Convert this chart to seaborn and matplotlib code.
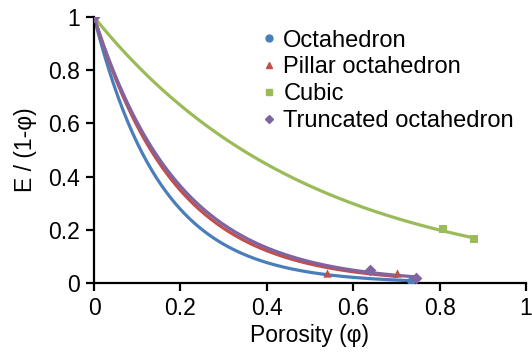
import numpy as np
import pandas as pd
import matplotlib
matplotlib.use("Agg")
import matplotlib.pyplot as plt
import seaborn as sns
from matplotlib.lines import Line2D

sns.set_style("white")
plt.rcParams['font.family'] = ['Liberation Sans', 'DejaVu Sans']

series_names = ["Octahedron", "Pillar octahedron", "Cubic", "Truncated octahedron"]
oct_x = [0.0, 0.734]
oct_y = [1.0, 0.009]
pil_x = [0.0, 0.539, 0.701]
pil_y = [1.0, 0.036, 0.036]
cub_x = [0.0, 0.808, 0.879]
cub_y = [1.0, 0.202, 0.165]
tru_x = [0.0, 0.638, 0.746]
tru_y = [1.0, 0.050, 0.019]

colors = ["#4A7EBB", "#C0504D", "#9BBB59", "#8064A2"]
markers = ["o", "^", "s", "D"]
msizes = [6, 6, 6, 6]
leg_msizes = [5, 5, 5, 4]

xs = [oct_x, pil_x, cub_x, tru_x]
ys = [oct_y, pil_y, cub_y, tru_y]

fig = plt.figure(figsize=(5.32, 3.61), dpi=100)
ax = fig.add_axes([0.1767, 0.216, 0.812, 0.737])

for name, x, y, c, m, ms in zip(series_names, xs, ys, colors, markers, msizes):
    x = np.asarray(x); y = np.asarray(y)
    # exponential trendline with intercept 1 (least squares on ln y)
    k = -np.sum(x * np.log(y)) / np.sum(x * x)
    xf = np.linspace(0, x.max(), 200)
    fit = pd.DataFrame({"x": xf, "y": np.exp(-k * xf)})
    sns.lineplot(data=fit, x="x", y="y", ax=ax, color=c, lw=2.3, zorder=2)
for name, x, y, c, m, ms in zip(series_names, xs, ys, colors, markers, msizes):
    pts = pd.DataFrame({"x": x, "y": y})
    sns.scatterplot(data=pts, x="x", y="y", ax=ax, color=c, marker=m, s=ms**2,
                    edgecolor=c, linewidth=0, zorder=3)

ax.set_xlim(0, 1)
ax.set_ylim(0, 1)
ax.set_xticks([0, 0.2, 0.4, 0.6, 0.8, 1])
ax.set_xticklabels(["0", "0.2", "0.4", "0.6", "0.8", "1"])
ax.set_yticks([0, 0.2, 0.4, 0.6, 0.8, 1])
ax.set_yticklabels(["0", "0.2", "0.4", "0.6", "0.8", "1"])
for s in ["top", "right"]:
    ax.spines[s].set_visible(False)
for s in ["left", "bottom"]:
    ax.spines[s].set_color("black")
    ax.spines[s].set_linewidth(1.6)
ax.tick_params(axis="both", direction="out", length=6, width=1.6, color="black",
               labelsize=16.5, labelcolor="black", pad=4, bottom=True, left=True)
ax.set_xlabel("Porosity (φ)", fontsize=16.5, color="black", labelpad=3)
ax.set_ylabel("E / (1-φ)", fontsize=16.5, color="black", labelpad=8)
for lab in ax.get_xticklabels() + ax.get_yticklabels():
    lab.set_clip_on(False)

handles = [Line2D([], [], ls="none", marker=m, color=c, markersize=s)
           for c, m, s in zip(colors, markers, leg_msizes)]
leg = ax.legend(handles, series_names, loc="upper left", bbox_to_anchor=(0.37, 0.988),
                frameon=False, fontsize=17, handlelength=0.5, handletextpad=0.35,
                labelspacing=0.2, borderaxespad=0)
for t in leg.get_texts():
    t.set_color("black")

fig.savefig("out.png", dpi=100)
